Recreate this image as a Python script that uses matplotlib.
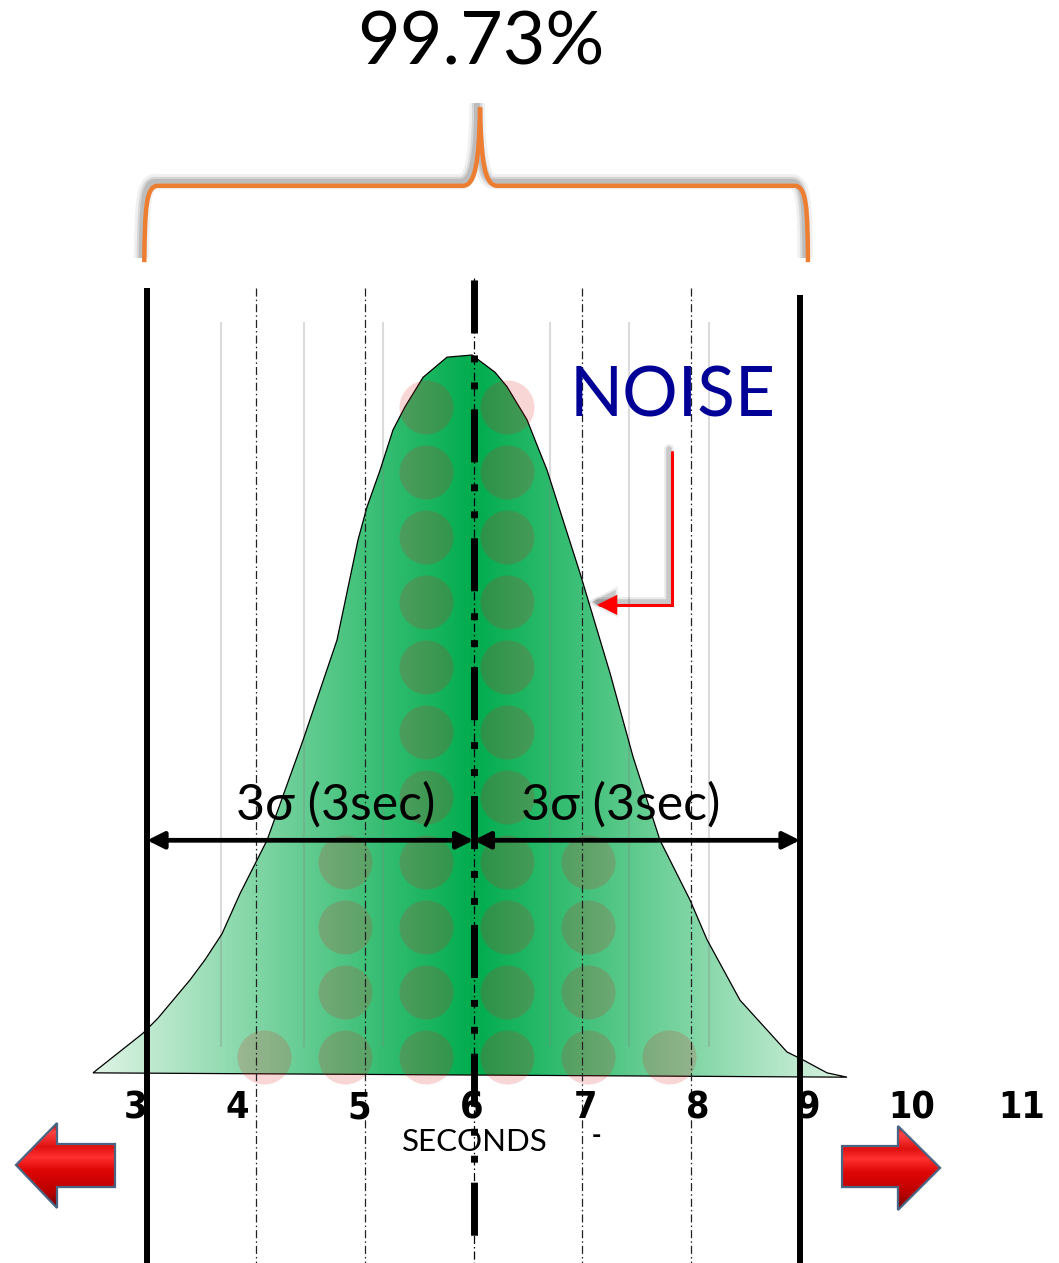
import numpy as np
import matplotlib
matplotlib.use("Agg")
import matplotlib.pyplot as plt
from matplotlib.patches import Polygon, FancyArrowPatch, PathPatch
from matplotlib.path import Path
from matplotlib.colors import LinearSegmentedColormap
import matplotlib.patheffects as pe

plt.rcParams["lines.scale_dashes"] = False

# ---- data -------------------------------------------------------------
# bell curve outline: x in seconds, y as height relative to the peak
curve_x = [2.503, 2.962, 3.100, 3.394, 3.532, 3.688, 3.854, 4.102, 4.433, 4.745,
           4.938, 5.021, 5.141, 5.260, 5.370, 5.536, 5.756, 5.986, 6.198, 6.308,
           6.492, 6.565, 6.676, 6.979, 7.255, 7.466, 7.714, 7.990, 8.146, 8.449,
           8.881, 9.028, 9.249, 9.433]
curve_y = [0.003, 0.058, 0.079, 0.132, 0.160, 0.196, 0.252, 0.326, 0.465, 0.604,
           0.743, 0.789, 0.840, 0.896, 0.928, 0.969, 0.997, 1.000, 0.976, 0.956,
           0.910, 0.882, 0.840, 0.697, 0.558, 0.442, 0.326, 0.243, 0.188, 0.104,
           0.032, 0.021, 0.003, -0.003]

mean_s = 6
sigma_marks = [4, 5, 7, 8]
limit_marks = [3, 9]

# dot histogram of observations
dot_x = [4.074, 4.819, 5.563, 6.308, 7.052, 7.797]
dot_counts = [1, 4, 11, 11, 4, 1]

# faint bin grid lines behind the curve
grid_x = [3.679, 4.442, 5.168, 6.703, 7.429, 8.165]

tick_values = [3, 4, 5, 6, 7, 8, 9, 10, 11]
tick_labels = ["3", "4", "5", "6", "7", "8", "9", "10", "11"]

coverage_label = "99.73%"
span_label = "3\u03c3 (3sec)"
noise_label = "NOISE"
axis_label = "SECONDS"

# ---- styling ----------------------------------------------------------
tick_nudge_pt = [-8.6, -13.7, -4.3, -1.1, 2.2, 5.0, 5.8, 2.2, 3.2]
TXT = ["Lato", "DejaVu Sans"]
NARROW = ["Liberation Sans Narrow", "DejaVu Sans"]

fig = plt.figure(figsize=(10.59, 12.63), dpi=100)
ax = fig.add_axes([0, 0, 1, 1])
ax.set_xlim(1.648, 11.381)
ax.set_ylim(-0.2611, 1.4931)
ax.axis("off")

# faint grid lines
for gx in grid_x:
    ax.plot([gx, gx], [0.039, 1.046], color="#808080", alpha=0.28, lw=1.5,
            solid_capstyle="butt", zorder=3)

# gradient-filled bell curve
poly = Polygon(np.column_stack([curve_x, curve_y]), closed=True,
               facecolor="none", edgecolor="black", lw=0.9, zorder=4)
ax.add_patch(poly)
xs = np.linspace(min(curve_x), max(curve_x), 600)
t = 0.92 * np.clip(np.abs(xs - mean_s) / 3.47, 0, 1)
c0 = np.array([0, 172, 78]) / 255.0
c1 = np.array([242, 250, 242]) / 255.0
row = c0[None, :] * (1 - t[:, None]) + c1[None, :] * t[:, None]
img = np.repeat(row[None, :, :], 2, axis=0)
im = ax.imshow(img, extent=[min(curve_x), max(curve_x), min(curve_y), max(curve_y)],
               aspect="auto", origin="lower", zorder=2, interpolation="bilinear")
clip = Polygon(np.column_stack([curve_x, curve_y]), closed=True, transform=ax.transData)
im.set_clip_path(clip)

# dot histogram
dot_step = 0.0903
dot_base = 0.025
for bx, n in zip(dot_x, dot_counts):
    ys = dot_base + dot_step * np.arange(n)
    ax.scatter(np.full(n, bx), ys, s=1512, color=(0.89, 0.11, 0.11), alpha=0.18,
               linewidths=0, zorder=5)

# sigma lines (thin dash-dot)
for sx in sigma_marks:
    ax.plot([sx, sx], [1.093, -0.2611], color="#222222", lw=0.9,
            linestyle=(0, (5.8, 2.2, 1.1, 2.2)), zorder=6)

# 3-sigma limits
for lx, top in zip(limit_marks, [1.093, 1.083]):
    ax.plot([lx, lx], [top, -0.2611], color="black", lw=4.3,
            solid_capstyle="butt", zorder=7)

# mean line: thin dash-dot with a heavy dash-dot-dot on top
ax.plot([mean_s, mean_s], [1.107, -0.2611], color="black", lw=0.9,
        linestyle=(0, (5.8, 2.2, 1.1, 2.2)), zorder=6)
ax.plot([mean_s, mean_s], [1.107, -0.232], color="black", lw=5,
        linestyle=(91.4, (38.2, 15.8, 5, 14.4, 5, 14.4)),
        dash_capstyle="butt", zorder=8)

# double-headed span arrows
arr_y = 0.326
for a, b in [(limit_marks[0], mean_s), (mean_s, limit_marks[1])]:
    ar = FancyArrowPatch((a, arr_y), (b, arr_y),
                         arrowstyle="<|-|>,head_length=10,head_width=5",
                         mutation_scale=1, lw=3.4, color="black",
                         shrinkA=0, shrinkB=0, zorder=9)
    ax.add_patch(ar)

ax.text(4.736, 0.374, span_label, ha="center", va="center", fontsize=36,
        family=TXT, zorder=10)
ax.text(7.356, 0.374, span_label, ha="center", va="center", fontsize=36,
        family=TXT, zorder=10)

# x tick labels
for v, lab, dx in zip(tick_values, tick_labels, tick_nudge_pt):
    ax.annotate(lab, xy=(v, -0.046), xytext=(dx, 0), textcoords="offset points",
                ha="center", va="center", fontsize=27, fontweight="bold",
                fontstretch="condensed", family=NARROW, zorder=10)
ax.text(6.014, -0.093, axis_label, ha="center", va="center", fontsize=22.5,
        family=TXT, zorder=10)
ax.text(7.13, -0.085, "-", ha="center", va="center", fontsize=16,
        fontweight="bold", family=["DejaVu Sans"], zorder=10)

# coverage label and brace
ax.text(6.069, 1.432, coverage_label, ha="center", va="center", fontsize=53,
        family=TXT, zorder=10)
verts = [(2.974, 1.129), (2.98, 1.205), (2.99, 1.235), (3.10, 1.235),
         (5.90, 1.235),
         (6.02, 1.235), (6.05, 1.27), (6.06, 1.344),
         (6.07, 1.27), (6.10, 1.235), (6.22, 1.235),
         (8.95, 1.235),
         (9.06, 1.235), (9.07, 1.205), (9.074, 1.129)]
codes = [Path.MOVETO, Path.CURVE4, Path.CURVE4, Path.CURVE4,
         Path.LINETO,
         Path.CURVE4, Path.CURVE4, Path.CURVE4,
         Path.CURVE4, Path.CURVE4, Path.CURVE4,
         Path.LINETO,
         Path.CURVE4, Path.CURVE4, Path.CURVE4]
brace = PathPatch(Path(verts, codes), facecolor="none", edgecolor="#ED7D31",
                  lw=3.2, zorder=10, capstyle="butt")
brace.set_path_effects([
    pe.SimpleLineShadow(offset=(-2, 3), shadow_color="black", alpha=0.06, linewidth=11),
    pe.SimpleLineShadow(offset=(-2, 3), shadow_color="black", alpha=0.10, linewidth=7),
    pe.SimpleLineShadow(offset=(-2, 3), shadow_color="black", alpha=0.12, linewidth=4),
    pe.Normal()])
ax.add_patch(brace)

# NOISE callout
ax.text(7.826, 0.942, noise_label, ha="center", va="center", fontsize=50,
        family=TXT, color="#000096", zorder=10)
callout = FancyArrowPatch(path=Path([(7.824, 0.865), (7.824, 0.653), (7.135, 0.653)]),
                          arrowstyle="-|>,head_length=11,head_width=5.5",
                          mutation_scale=1, lw=2.2, color="#FF0000", zorder=10,
                          joinstyle="miter")
callout.set_path_effects([
    pe.SimpleLineShadow(offset=(-2, 2), shadow_color="black", alpha=0.08, linewidth=7),
    pe.SimpleLineShadow(offset=(-2, 2), shadow_color="black", alpha=0.15, linewidth=4),
    pe.Normal()])
ax.add_patch(callout)

# red block arrows at both ends of the axis
red_cmap = LinearSegmentedColormap.from_list(
    "bevel", [(0.0, "#6a0000"), (0.18, "#b80000"), (0.45, "#e00606"),
              (0.6, "#ff3030"), (0.72, "#e01010"), (0.9, "#ff4545"), (1.0, "#900000")])

def block_arrow(pts):
    pts = np.asarray(pts)
    x0, x1 = pts[:, 0].min(), pts[:, 0].max()
    y0, y1 = pts[:, 1].min(), pts[:, 1].max()
    grad = np.linspace(0, 1, 256)[:, None]
    g = ax.imshow(grad, cmap=red_cmap, extent=[x0, x1, y0, y1], origin="lower",
                  aspect="auto", zorder=10, interpolation="bilinear")
    shape = Polygon(pts, closed=True, facecolor="none", edgecolor="#4a6583",
                    lw=1.6, zorder=11, joinstyle="miter")
    ax.add_patch(shape)
    g.set_clip_path(Polygon(pts, closed=True, transform=ax.transData))

block_arrow([(1.795, -0.125), (2.172, -0.0667), (2.172, -0.0958), (2.705, -0.0958),
             (2.705, -0.1556), (2.172, -0.1556), (2.172, -0.1847)])
block_arrow([(10.288, -0.129), (9.901, -0.0708), (9.901, -0.0986), (9.387, -0.0986),
             (9.387, -0.1556), (9.901, -0.1556), (9.901, -0.1875)])

fig.savefig("out.png", dpi=100)
